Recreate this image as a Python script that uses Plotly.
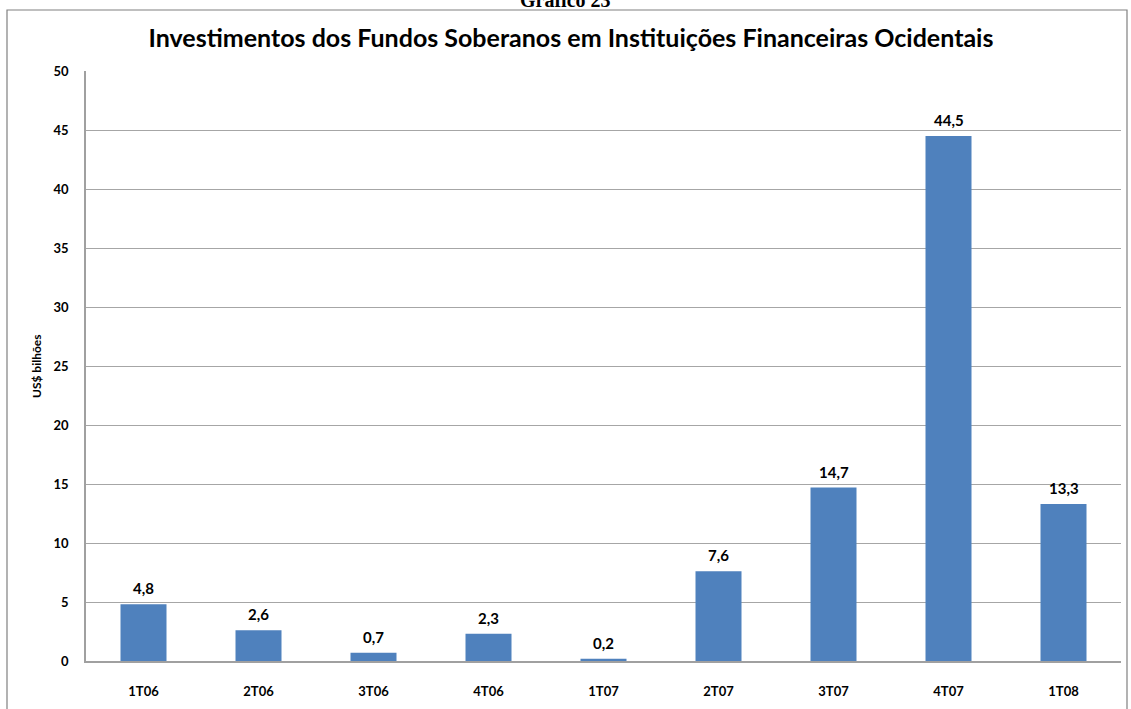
import plotly.graph_objects as go

categories = ["1T06", "2T06", "3T06", "4T06", "1T07", "2T07", "3T07", "4T07", "1T08"]
values = [4.8, 2.6, 0.7, 2.3, 0.2, 7.6, 14.7, 44.5, 13.3]
y_ticks = [0, 5, 10, 15, 20, 25, 30, 35, 40, 45, 50]

W, H = 1131, 709
L, R, T, B = 86, 10, 71, 48
pw, ph = W - L - R, H - T - B

labels = [f"{v:.1f}".replace(".", ",") for v in values]


def px_x(p):
    return (p - L) / pw


def px_y(p):
    return (H - B - p) / ph


fig = go.Figure()
fig.add_trace(go.Bar(
    x=categories, y=values,
    marker=dict(color="#4F81BD", line=dict(color="#4F81BD", width=0)),
    width=0.4,
    hoverinfo="x+y",
))

for c, v, t in zip(categories, values, labels):
    fig.add_annotation(x=c, y=v, text=f"<b>{t}</b>", showarrow=False,
                       yanchor="bottom", yshift=5,
                       font=dict(family="Lato, Arial", size=15, color="#000"))

# outer border of chart area
fig.add_shape(type="rect", xref="paper", yref="paper",
              x0=px_x(7), x1=px_x(1127), y0=px_y(715), y1=px_y(10),
              line=dict(color="#808080", width=1.2), fillcolor="rgba(0,0,0,0)", layer="below")

fig.add_annotation(xref="paper", yref="paper", x=px_x(565), y=px_y(0),
                   text="<b>Gráfico 23</b>", showarrow=False,
                   xanchor="center", yanchor="middle",
                   font=dict(family="Liberation Serif, Times New Roman", size=20, color="#000"))

fig.add_annotation(xref="paper", yref="paper", x=px_x(36), y=px_y(366),
                   text="<b>US$ bilhões</b>", showarrow=False, textangle=-90,
                   xanchor="center", yanchor="middle",
                   font=dict(family="Lato, Arial", size=12, color="#000"))

fig.update_layout(
    width=W, height=H,
    margin=dict(l=L, r=R, t=T, b=B, autoexpand=False),
    paper_bgcolor="white", plot_bgcolor="white",
    title=dict(text="<b>Investimentos dos Fundos Soberanos em Instituições Financeiras Ocidentais</b>",
               x=571 / W, xanchor="center", y=1 - 38 / H, yanchor="middle",
               font=dict(family="Lato, Arial", size=25, color="#000")),
    showlegend=False,
)
fig.update_xaxes(
    showgrid=False, showline=True, linecolor="#A0A0A0", linewidth=1.5,
    ticks="", ticklabelstandoff=18, automargin=False,
    tickfont=dict(family="Lato, Arial", size=13, color="#000", weight="bold"),
    range=[-0.5, 8.5],
)
fig.update_yaxes(
    range=[0, 50], tickvals=y_ticks, showgrid=True, gridcolor="#A6A6A6", gridwidth=1,
    showline=True, linecolor="#A0A0A0", linewidth=1.5, zeroline=False,
    ticks="", ticklabelstandoff=13, automargin=False,
    tickfont=dict(family="Lato, Arial", size=13, color="#000", weight="bold"),
)

fig.write_html("out.html", config={"displayModeBar": False},
               post_script="document.body.style.margin='0';document.body.style.padding='0';document.body.style.overflow='hidden';")
